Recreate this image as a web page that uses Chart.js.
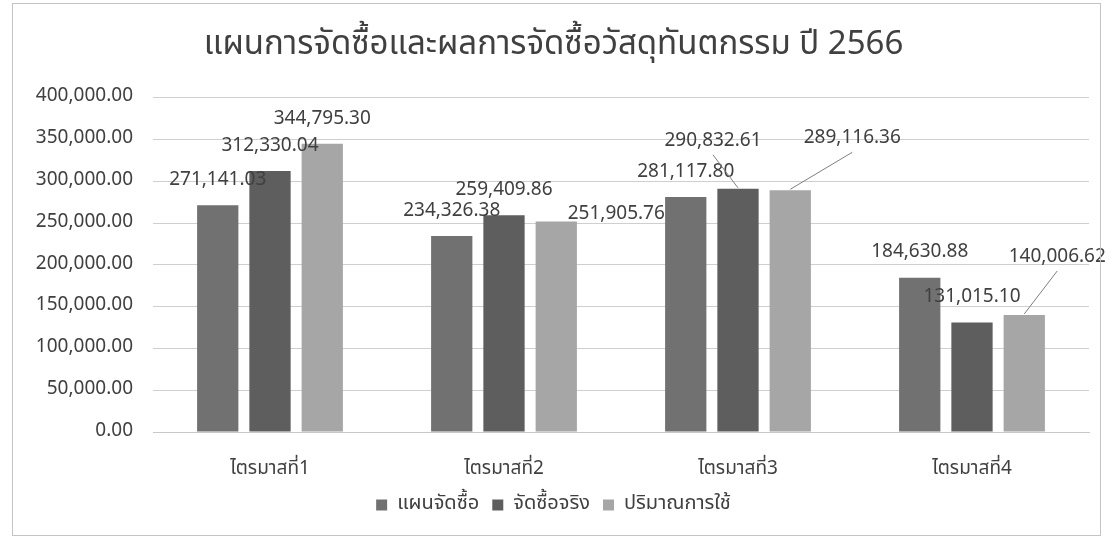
<!DOCTYPE html>
<html>
<head>
<meta charset="utf-8">
<script src="https://cdn.jsdelivr.net/npm/chart.js@4/dist/chart.umd.min.js"></script>
<style>
  html, body { margin: 0; padding: 0; background: #fff; }
  #wrap { width: 1113px; height: 541px; }
</style>
</head>
<body>
<div id="wrap"><canvas id="c" width="1113" height="541"></canvas></div>
<script>
// ข้อมูลรายไตรมาส ปี 2566
const quarters = ['ไตรมาสที่1', 'ไตรมาสที่2', 'ไตรมาสที่3', 'ไตรมาสที่4'];
const planBuy   = [271141.03, 234326.38, 281117.80, 184630.88];
const actualBuy = [312330.04, 259409.86, 290832.61, 131015.10];
const usage     = [344795.30, 251905.76, 289116.36, 140006.62];
const yTicks    = [0, 50000, 100000, 150000, 200000, 250000, 300000, 350000, 400000];

const FONT = "'Noto Sans Thai', 'Open Sans', 'Noto Sans', Tahoma, sans-serif";
const fmt = v => v.toLocaleString('en-US', { minimumFractionDigits: 2, maximumFractionDigits: 2 });

// ป้ายค่าที่ถูกเลื่อนตำแหน่ง (dataset:index -> [dx, dy, มีเส้นนำ])
const labelShift = {
    '2:1': [60, 18, false],
    '1:2': [-25, -23, true],
    '2:2': [62, -27, true],
    '2:3': [33, -33, true],
};

const frame = {
    id: 'frame',
    beforeDraw(chart) {
        const { ctx, width, height } = chart;
        ctx.save();
        ctx.fillStyle = '#fff';
        ctx.fillRect(0, 0, width, height);
        ctx.restore();
    },
    afterDraw(chart) {
        const { ctx } = chart;
        ctx.save();
        ctx.strokeStyle = '#c4c4c4';
        ctx.lineWidth = 1;
        ctx.strokeRect(12.5, 3.5, 1088, 532);
        ctx.restore();
    },
};

const valueLabels = {
    id: 'valueLabels',
    afterDatasetsDraw(chart) {
        const { ctx } = chart;
        ctx.save();
        ctx.font = `19px ${FONT}`;
        ctx.fillStyle = '#404040';
        ctx.textAlign = 'center';
        ctx.textBaseline = 'middle';
        chart.data.datasets.forEach((ds, di) => {
            chart.getDatasetMeta(di).data.forEach((bar, i) => {
                const s = labelShift[di + ':' + i] || [0, 0, false];
                const x = bar.x + s[0];
                const y = bar.y - 24 + s[1];
                if (s[2]) {
                    ctx.beginPath();
                    ctx.moveTo(x, y + 13);
                    ctx.lineTo(bar.x, bar.y - 1);
                    ctx.strokeStyle = '#808080';
                    ctx.lineWidth = 1;
                    ctx.stroke();
                }
                ctx.fillText(fmt(ds.data[i]), x, y);
            });
        });
        ctx.restore();
    },
};

new Chart(document.getElementById('c'), {
    type: 'bar',
    plugins: [frame, valueLabels],
    data: {
        labels: quarters,
        datasets: [
            { label: 'แผนจัดซื้อ',   data: planBuy,   backgroundColor: '#717171' },
            { label: 'จัดซื้อจริง',   data: actualBuy, backgroundColor: '#5e5e5e' },
            { label: 'ปริมาณการใช้', data: usage,     backgroundColor: '#a6a6a6' },
        ],
    },
    options: {
        responsive: false,
        animation: false,
        layout: { padding: { left: 18, right: 24, top: 12, bottom: 16 } },
        datasets: { bar: { categoryPercentage: 0.67, barPercentage: 0.79 } },
        plugins: {
            tooltip: { enabled: false },
            title: {
                display: true,
                text: 'แผนการจัดซื้อและผลการจัดซื้อวัสดุทันตกรรม ปี 2566',
                color: '#404040',
                font: { family: FONT, size: 33, weight: 'normal' },
                padding: { top: 16, bottom: 30 },
            },
            legend: {
                position: 'bottom',
                labels: {
                    color: '#404040',
                    font: { family: FONT, size: 20 },
                    boxWidth: 11,
                    boxHeight: 11,
                    padding: 13,
                },
            },
        },
        scales: {
            x: {
                afterFit: s => { s.height = 50; },
                grid: { display: false, drawTicks: false },
                border: { color: '#c8c8c8' },
                ticks: { color: '#404040', font: { family: FONT, size: 19 }, padding: 27 },
            },
            y: {
                min: 0,
                max: 400000,
                afterBuildTicks: s => { s.ticks = yTicks.map(v => ({ value: v })); },
                afterFit: s => { s.width = 135; },
                grid: { color: '#cfcfcf', drawTicks: false },
                border: { display: false },
                ticks: { color: '#404040', font: { family: FONT, size: 19 }, padding: 20, callback: v => fmt(v) },
            },
        },
    },
});
</script>
</body>
</html>
